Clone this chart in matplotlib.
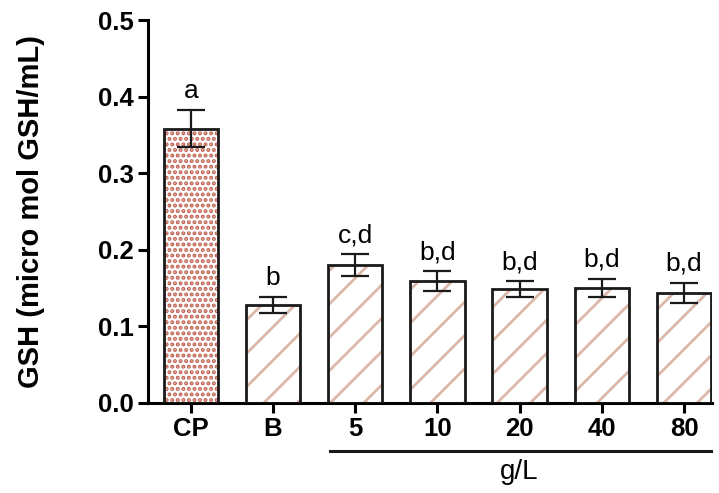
import matplotlib
matplotlib.use("Agg")
import matplotlib.pyplot as plt

plt.rcParams['font.family'] = ['Liberation Sans', 'DejaVu Sans']
plt.rcParams['hatch.linewidth'] = 2.0

categories = ['CP', 'B', '5', '10', '20', '40', '80']
values = [0.358, 0.128, 0.180, 0.159, 0.149, 0.150, 0.144]
errors = [0.024, 0.010, 0.014, 0.013, 0.010, 0.012, 0.013]
letters = ['a', 'b', 'c,d', 'b,d', 'b,d', 'b,d', 'b,d']
yticks = [0.0, 0.1, 0.2, 0.3, 0.4, 0.5]

fig = plt.figure(figsize=(7.19, 4.93), dpi=100)
ax = fig.add_axes([148/719, 90/493, (712-148)/719, (403-20)/493])

x = list(range(len(categories)))
for i, (v, e) in enumerate(zip(values, errors)):
    if i == 0:
        hatch, hc = '...', '#c0604f'
    else:
        hatch, hc = '/', '#dcb8aa'
    ax.bar(i, v, width=0.66, facecolor='white', edgecolor=hc, hatch=hatch,
           linewidth=0, zorder=2)
    ax.bar(i, v, width=0.66, facecolor='none', edgecolor='#1a1a1a',
           linewidth=2, zorder=3)
ax.errorbar(x, values, yerr=errors, fmt='none', ecolor='#1a1a1a',
            elinewidth=1.6, capsize=10, capthick=1.6, zorder=4)
for i, (v, e, t) in enumerate(zip(values, errors, letters)):
    ax.annotate(t, (i, v + e), xytext=(0, 5), textcoords='offset points',
                ha='center', va='bottom', fontsize=19)

ax.set_xlim(-0.52, 6.34)
ax.set_ylim(0, 0.5)
ax.set_yticks(yticks)
ax.set_yticklabels([f'{t:.1f}' for t in yticks], fontsize=18.5, fontweight='bold')
ax.set_xticks(x)
ax.set_xticklabels(categories, fontsize=18.5, fontweight='bold')
ax.set_ylabel('GSH (micro mol GSH/mL)', fontsize=21, fontweight='bold', labelpad=38)
for s in ['top', 'right']:
    ax.spines[s].set_visible(False)
for s in ['left', 'bottom']:
    ax.spines[s].set_linewidth(2.2)
ax.tick_params(axis='both', direction='out', length=7, width=2.2, pad=3)

# group line and label
ax.plot([1.69, 6.33], [-0.0627, -0.0627], color='#1a1a1a', lw=2.2, clip_on=False)
ax.text(4.0, -0.073, 'g/L', ha='center', va='top', fontsize=20, clip_on=False)

fig.savefig('out.png', dpi=100)
